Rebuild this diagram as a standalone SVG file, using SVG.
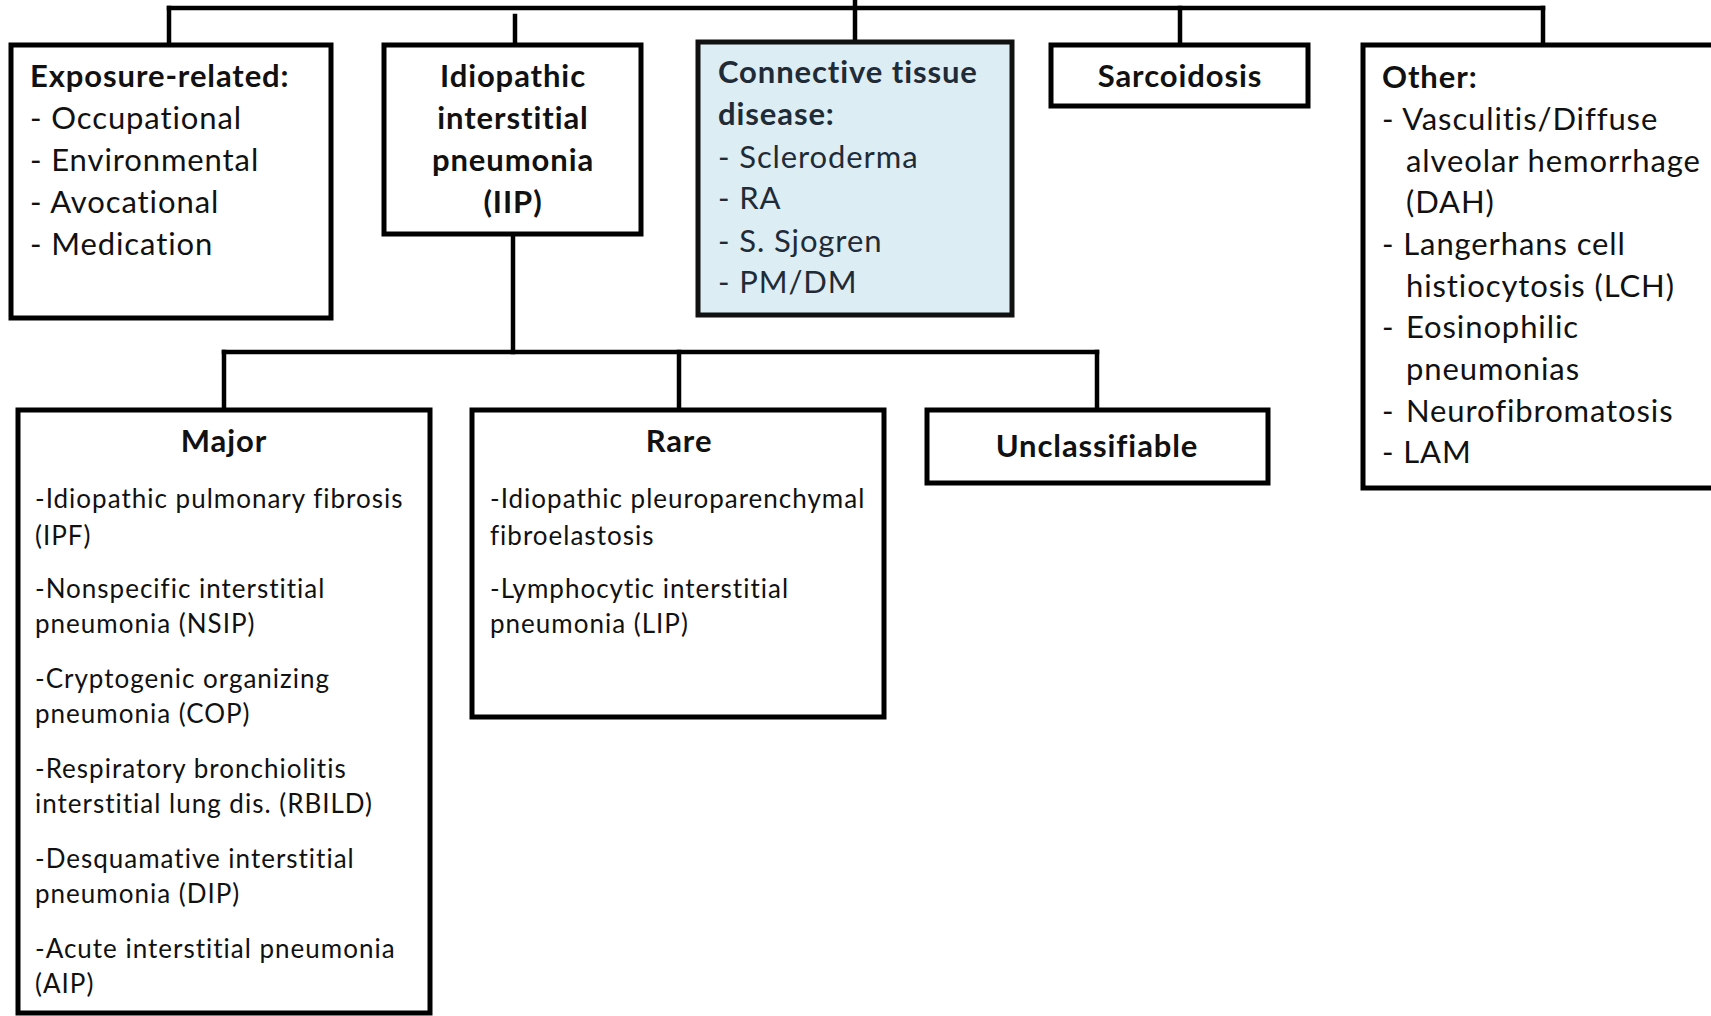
<svg xmlns="http://www.w3.org/2000/svg" width="1711" height="1016" viewBox="0 0 1711 1016">
<style>
.box{fill:#fff;stroke:#000;stroke-width:5}
.ctd{fill:#dcedf3;stroke:#111;stroke-width:5}
.ln{stroke:#000;stroke-width:4.5;fill:none;stroke-linecap:square}
text{font-family:Lato,"Liberation Sans",sans-serif;fill:#111}
.t{font-size:31px;letter-spacing:0.9px}
.b{font-size:31px;font-weight:bold;letter-spacing:0.9px}
.s{font-size:26px;letter-spacing:1px}
.sb{font-size:31px;font-weight:bold;letter-spacing:0.9px}
.c{text-anchor:middle}
.dk{fill:#1f2b37}
</style>
<rect width="1711" height="1016" fill="#fff"/>
<g id="connectors">
<path class="ln" d="M169 8 H1543"/>
<path class="ln" d="M169 8 V45"/>
<path class="ln" d="M515 16 V45"/>
<path class="ln" d="M855 0 V42"/>
<path class="ln" d="M1180 8 V45"/>
<path class="ln" d="M1543 8 V45"/>
<path class="ln" d="M513 234 V352"/>
<path class="ln" d="M224 352 H1097"/>
<path class="ln" d="M224 352 V410"/>
<path class="ln" d="M679 352 V410"/>
<path class="ln" d="M1097 352 V410"/>
</g>
<g id="exposure">
<rect class="box" x="11" y="45" width="320" height="273"/>
<text class="b" x="30" y="87">Exposure-related:</text>
<text class="t" x="30" y="129">- Occupational</text>
<text class="t" x="30" y="171">- Environmental</text>
<text class="t" x="30" y="213">- Avocational</text>
<text class="t" x="30" y="255">- Medication</text>
</g>
<g id="iip">
<rect class="box" x="384" y="45" width="257" height="189"/>
<text class="b c" x="513" y="87">Idiopathic</text>
<text class="b c" x="513" y="129">interstitial</text>
<text class="b c" x="513" y="171">pneumonia</text>
<text class="b c" x="513" y="213">(IIP)</text>
</g>
<g id="ctd">
<rect class="ctd" x="698" y="42" width="314" height="273"/>
<text class="b dk" x="718" y="83">Connective tissue</text>
<text class="b dk" x="718" y="125">disease:</text>
<text class="t dk" x="718" y="168">- Scleroderma</text>
<text class="t dk" x="718" y="209">- RA</text>
<text class="t dk" x="718" y="252">- S. Sjogren</text>
<text class="t dk" x="718" y="293">- PM/DM</text>
</g>
<g id="sarcoidosis">
<rect class="box" x="1051" y="45" width="257" height="61"/>
<text class="b c" x="1180" y="87">Sarcoidosis</text>
</g>
<g id="other">
<rect class="box" x="1363" y="45" width="360" height="443"/>
<text class="b" x="1382" y="88">Other:</text>
<text class="t" x="1382" y="130">- Vasculitis/Diffuse</text>
<text class="t" x="1406" y="172">alveolar hemorrhage</text>
<text class="t" x="1406" y="213">(DAH)</text>
<text class="t" x="1382" y="255">- Langerhans cell</text>
<text class="t" x="1406" y="297">histiocytosis (LCH)</text>
<text class="t" y="338"><tspan x="1382">-</tspan><tspan x="1406">Eosinophilic</tspan></text>
<text class="t" x="1406" y="380">pneumonias</text>
<text class="t" y="422"><tspan x="1382">-</tspan><tspan x="1406">Neurofibromatosis</tspan></text>
<text class="t" x="1382" y="463">- LAM</text>
</g>
<g id="major">
<rect class="box" x="18" y="410" width="412" height="603"/>
<text class="sb c" x="224" y="452">Major</text>
<text class="s" x="35" y="508">-Idiopathic pulmonary fibrosis</text>
<text class="s" x="35" y="545">(IPF)</text>
<text class="s" x="35" y="598">-Nonspecific interstitial</text>
<text class="s" x="35" y="633">pneumonia (NSIP)</text>
<text class="s" x="35" y="688">-Cryptogenic organizing</text>
<text class="s" x="35" y="723">pneumonia (COP)</text>
<text class="s" x="35" y="778">-Respiratory bronchiolitis</text>
<text class="s" x="35" y="813">interstitial lung dis. (RBILD)</text>
<text class="s" x="35" y="868">-Desquamative interstitial</text>
<text class="s" x="35" y="903">pneumonia (DIP)</text>
<text class="s" x="35" y="958">-Acute interstitial pneumonia</text>
<text class="s" x="35" y="993">(AIP)</text>
</g>
<g id="rare">
<rect class="box" x="472" y="410" width="412" height="307"/>
<text class="sb c" x="679" y="452">Rare</text>
<text class="s" x="490" y="508">-Idiopathic pleuroparenchymal</text>
<text class="s" x="490" y="545">fibroelastosis</text>
<text class="s" x="490" y="598">-Lymphocytic interstitial</text>
<text class="s" x="490" y="633">pneumonia (LIP)</text>
</g>
<g id="unclassifiable">
<rect class="box" x="927" y="410" width="341" height="73"/>
<text class="sb c" x="1097" y="457">Unclassifiable</text>
</g>
</svg>
